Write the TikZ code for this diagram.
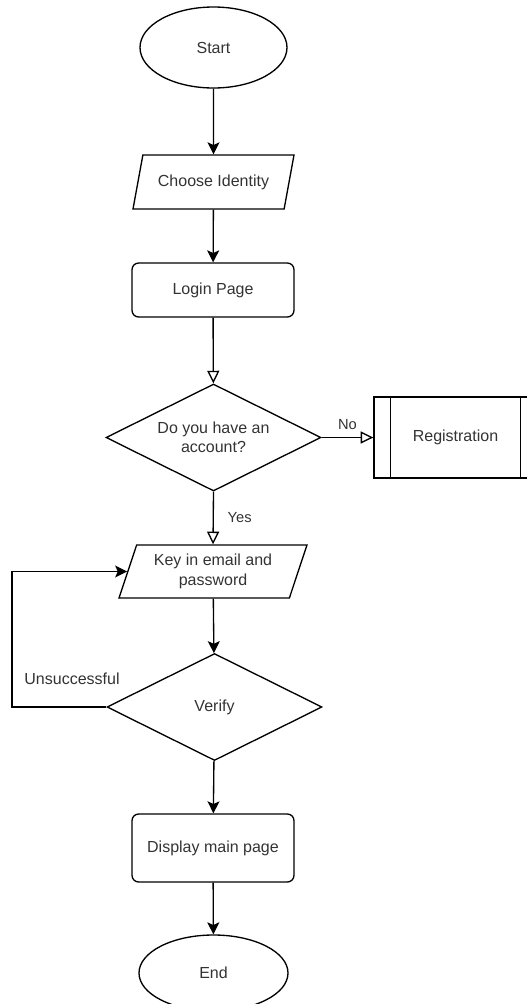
\documentclass[tikz,border=0pt]{standalone}
\usepackage{fontspec}
\setmainfont{Liberation Sans}
\usetikzlibrary{shapes.geometric,arrows.meta}
\begin{document}
\begin{tikzpicture}[x=0.75pt,y=-0.75pt]
        \tikzstyle{terminal}=[ellipse,draw=black,line width=1pt,text=black!80,font=\fontsize{12}{14.5}\selectfont]
        \tikzstyle{inout}=[trapezium,trapezium stretches body,draw=black,line width=1pt,inner sep=2pt,text=black!80,align=center,font=\fontsize{12}{14.5}\selectfont]
        \tikzstyle{process}=[rectangle,rounded corners=5pt,draw=black,line width=1pt,text=black!80,font=\fontsize{12}{14.5}\selectfont]
        \tikzstyle{decision}=[diamond,aspect=2,inner sep=1pt,draw=black,line width=1pt,text=black!80,align=center,font=\fontsize{12}{14.5}\selectfont]
        \tikzstyle{subproc}=[rectangle,draw=black,line width=1pt,text=black!80,font=\fontsize{12}{14.5}\selectfont]
        \tikzstyle{edgelabel}=[text=black!80,font=\fontsize{11}{13}\selectfont]
        \tikzstyle{edge}=[draw, line width=1pt, -{Stealth[length=9pt,width=9pt,inset=2pt]}]
        \tikzstyle{openedge}=[draw, line width=1pt, -{Triangle[open,length=9.5pt,width=9pt]}]
        \useasboundingbox (0,0) rectangle (526,1004);
        \begin{scope}
          \node [terminal, minimum width=110.25pt, minimum height=60.75pt] (start) at (213.5,47.5) {Start};
          \node [inout, trapezium left angle=64, trapezium right angle=116, minimum width=120.75pt, minimum height=40.5pt] (choose) at (213.5,182) {Choose Identity};
          \node [process, minimum width=121.5pt, minimum height=40.5pt] (login) at (213,290) {Login Page};
          \node [decision, minimum width=161.25pt, minimum height=80.25pt] (account) at (213.5,437.5) {Do you have an\\account?};
          \node [subproc, minimum width=122.25pt, minimum height=60.75pt] (reg) at (455.5,437.5) {Registration};
          \node [inout, trapezium left angle=66, trapezium right angle=114, minimum width=141pt, minimum height=39.75pt] (keyin) at (213,571.5) {Key in email and\\password};
          \node [decision, minimum width=161.25pt, minimum height=80.25pt] (verify) at (214.5,707) {Verify};
          \node [process, minimum width=121.5pt, minimum height=51pt] (display) at (213,848) {Display main page};
          \node [terminal, minimum width=111.75pt, minimum height=57pt] (end) at (213.5,973) {End};
          \node [edgelabel, font=\fontsize{12}{14.5}\selectfont] (unsucc) at (72,679) {Unsuccessful};
          \coordinate (loop) at (12,707);
          % sub-process side bars
          \draw [line width=1pt] ([xshift=12.75pt]reg.north west) -- ([xshift=12.75pt]reg.south west);
          \draw [line width=1pt] ([xshift=-12.75pt]reg.north east) -- ([xshift=-12.75pt]reg.south east);
          \path (start) edge[edge] (choose);
          \path (choose) edge[edge] (login);
          \path (login) edge[openedge] (account);
          \path (account.east) edge[openedge] node[edgelabel, above, yshift=2pt] {No} (reg.west);
          \path (account.south) edge[openedge] node[edgelabel, right, xshift=7pt] {Yes} (keyin.north);
          \path (keyin) edge[edge] (verify);
          \draw [edge] (verify.west) -- (loop) |- (keyin.left side);
          \path (verify) edge[edge] (display);
          \path (display) edge[edge] (end);
        \end{scope}
\end{tikzpicture}
\end{document}
